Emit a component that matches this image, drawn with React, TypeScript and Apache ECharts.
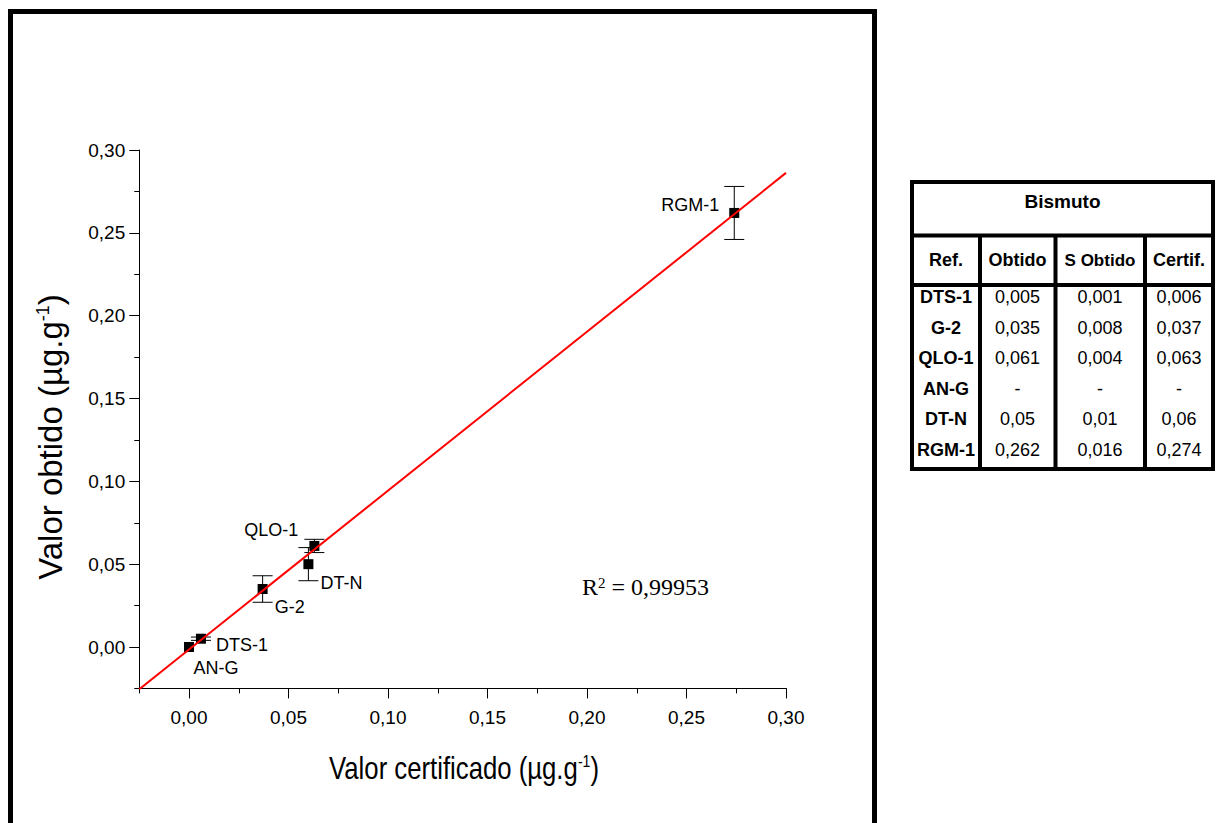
import React, { useEffect, useRef } from "react";
import * as echarts from "echarts";

// ---- data ----
const sampleNames = ["DTS-1", "G-2", "QLO-1", "AN-G", "DT-N", "RGM-1"];
const certifiedX = [0.006, 0.037, 0.063, 0.0, 0.06, 0.274];
const obtainedY = [0.005, 0.035, 0.061, 0.0, 0.05, 0.262];
const stdDevY = [0.001, 0.008, 0.004, 0.0, 0.01, 0.016];
// table values (null = "-")
const tableObtido = [0.005, 0.035, 0.061, null, 0.05, 0.262];
const tableSObtido = [0.001, 0.008, 0.004, null, 0.01, 0.016];
const tableCertif = [0.006, 0.037, 0.063, null, 0.06, 0.274];
const tableHeaders = ["Ref.", "Obtido", "S Obtido", "Certif."];
const tableTitle = "Bismuto";
// regression line endpoints
const fitLine = [
  [-0.025, -0.0255],
  [0.3, 0.2862],
];
const r2Text = "0,99953";
const axisMin = -0.025;
const axisMax = 0.3;

const SANS = "'Liberation Sans', Arial, Helvetica, sans-serif";
const SERIF = "'Liberation Serif', 'Times New Roman', serif";

// label placement per sample (style / layout, not data)
const labelLayout: Record<string, any> = {
  "DTS-1": { position: "right", distance: 10, offset: [0, 6] },
  "G-2": { position: "right", distance: 7, offset: [0, 18] },
  "QLO-1": { position: "left", distance: 11, offset: [0, -16] },
  "AN-G": { position: "bottom", distance: 7, offset: [27, 0] },
  "DT-N": { position: "right", distance: 7, offset: [0, 19] },
  "RGM-1": { position: "left", distance: 10, offset: [0, -8] },
};

const fmt = (v: number | null) => (v == null ? "-" : String(v).replace(".", ","));

export default function App() {
  const ref = useRef<HTMLDivElement>(null);
  useEffect(() => {
    if (!ref.current) return;
    const chart = echarts.init(ref.current, undefined, { renderer: "svg" });

    // pixel geometry of the plot
    const x0 = 189; // pixel of value 0 on x
    const xPx = 1990; // px per unit
    const y0 = 647;
    const yPx = 1656.67;
    const rightEdge = 786;
    const topEdge = 150;
    const W = 1217;
    const H = 823;
    const g0Left = x0 + axisMin * xPx;
    const g0Bottom = H - (y0 - axisMin * yPx);

    // table graphics
    const tL = 912, tR = 1213, tT = 182, tB = 469;
    const hLine1 = 235.5, hLine2 = 285;
    const vLines = [980, 1055.5, 1145];
    const colCenters = [946, 1017.5, 1100, 1179];
    const rowYs = [297, 327.5, 358, 388.5, 419, 449.5];
    const tableEls: any[] = [
      { type: "rect", shape: { x: tL, y: tT, width: tR - tL, height: tB - tT }, style: { fill: "none", stroke: "#000", lineWidth: 4 } },
      { type: "line", shape: { x1: tL, y1: hLine1, x2: tR, y2: hLine1 }, style: { stroke: "#000", lineWidth: 4 } },
      { type: "line", shape: { x1: tL, y1: hLine2, x2: tR, y2: hLine2 }, style: { stroke: "#000", lineWidth: 4 } },
      ...vLines.map((vx) => ({ type: "line", shape: { x1: vx, y1: hLine1, x2: vx, y2: tB }, style: { stroke: "#000", lineWidth: 4 } })),
      { type: "text", style: { text: tableTitle, x: (tL + tR) / 2, y: 201, align: "center", verticalAlign: "middle", font: `bold 19px ${SANS}`, fill: "#000" } },
      ...tableHeaders.map((h, i) => ({ type: "text", style: { text: h, x: colCenters[i], y: 260, align: "center", verticalAlign: "middle", font: `bold ${i === 2 ? 17 : 18}px ${SANS}`, fill: "#000" } })),
    ];
    sampleNames.forEach((n, r) => {
      const vals = [tableObtido[r], tableSObtido[r], tableCertif[r]];
      tableEls.push({ type: "text", style: { text: n, x: colCenters[0], y: rowYs[r], align: "center", verticalAlign: "middle", font: `bold 18px ${SANS}`, fill: "#000" } });
      vals.forEach((v, c) => {
        tableEls.push({ type: "text", style: { text: fmt(v), x: colCenters[c + 1], y: rowYs[r], align: "center", verticalAlign: "middle", font: `18px ${SANS}`, fill: "#000" } });
      });
    });

    const scatterData = sampleNames.map((n, i) => ({
      name: n,
      value: [certifiedX[i], obtainedY[i]],
      label: {
        show: true,
        formatter: n,
        color: "#000",
        fontSize: 18,
        fontFamily: SANS,
        ...labelLayout[n],
      },
    }));

    const errData = sampleNames.map((n, i) => [certifiedX[i], obtainedY[i] - stdDevY[i], obtainedY[i] + stdDevY[i]]);

    const tickFmt = (v: number) => v.toFixed(2).replace(".", ",");

    chart.setOption({
      animation: false,
      backgroundColor: "#fff",
      grid: [
        { left: g0Left, right: W - rightEdge, top: topEdge, bottom: g0Bottom },
        { left: x0, right: W - rightEdge, top: topEdge, bottom: H - y0 },
      ],
      xAxis: [
        {
          gridIndex: 0, type: "value", min: axisMin, max: axisMax, interval: 0.025,
          axisLine: { show: true, onZero: false, lineStyle: { color: "#000", width: 1 } },
          axisTick: { show: true, length: 5, lineStyle: { color: "#000" } },
          axisLabel: { show: false }, splitLine: { show: false },
        },
        {
          gridIndex: 1, type: "value", min: 0, max: axisMax, interval: 0.05,
          offset: -axisMin * yPx,
          axisLine: { show: false, onZero: false },
          axisTick: { show: true, length: 10, lineStyle: { color: "#000" } },
          axisLabel: { show: true, formatter: tickFmt, color: "#000", fontSize: 19, fontFamily: SANS, margin: 20 },
          splitLine: { show: false },
        },
      ],
      yAxis: [
        {
          gridIndex: 0, type: "value", min: axisMin, max: axisMax, interval: 0.025,
          axisLine: { show: true, onZero: false, lineStyle: { color: "#000", width: 1 } },
          axisTick: { show: true, length: 5, lineStyle: { color: "#000" } },
          axisLabel: { show: false }, splitLine: { show: false },
        },
        {
          gridIndex: 1, type: "value", min: 0, max: axisMax, interval: 0.05,
          offset: x0 - g0Left,
          axisLine: { show: false, onZero: false },
          axisTick: { show: true, length: 10, lineStyle: { color: "#000" } },
          axisLabel: { show: true, formatter: tickFmt, color: "#000", fontSize: 19, fontFamily: SANS, margin: 14 },
          splitLine: { show: false },
        },
      ],
      series: [
        {
          type: "custom",
          xAxisIndex: 0, yAxisIndex: 0,
          data: errData,
          z: 3,
          renderItem: (params: any, api: any) => {
            const x = api.value(0);
            const lo = api.coord([x, api.value(1)]);
            const hi = api.coord([x, api.value(2)]);
            if (Math.abs(hi[1] - lo[1]) < 0.5) return { type: "group", children: [] };
            const cw = 10;
            const st = { stroke: "#000", lineWidth: 1 };
            return {
              type: "group",
              children: [
                { type: "line", shape: { x1: lo[0], y1: lo[1], x2: hi[0], y2: hi[1] }, style: st },
                { type: "line", shape: { x1: lo[0] - cw, y1: lo[1], x2: lo[0] + cw, y2: lo[1] }, style: st },
                { type: "line", shape: { x1: hi[0] - cw, y1: hi[1], x2: hi[0] + cw, y2: hi[1] }, style: st },
              ],
            };
          },
        },
        {
          type: "scatter",
          xAxisIndex: 0, yAxisIndex: 0,
          symbol: "rect",
          symbolSize: 10,
          itemStyle: { color: "#000", opacity: 1 },
          data: scatterData,
          z: 4,
        },
        {
          type: "line",
          xAxisIndex: 0, yAxisIndex: 0,
          data: fitLine,
          showSymbol: false,
          symbol: "none",
          lineStyle: { color: "#ff0000", width: 2 },
          z: 5,
        },
      ],
      graphic: [
        { type: "rect", shape: { x: 10.5, y: 11.5, width: 864, height: 900 }, style: { fill: "none", stroke: "#000", lineWidth: 5 } },
        {
          type: "text",
          x: 464, y: 768, scaleX: 0.83,
          style: {
            text: "{a|Valor certificado (µg.g}{s|-1}{a|)}",
            align: "center", verticalAlign: "middle",
            rich: {
              a: { fontSize: 31, fontFamily: SANS, fill: "#000" },
              s: { fontSize: 17, fontFamily: SANS, fill: "#000", verticalAlign: "top" },
            },
          },
        },
        {
          type: "text",
          x: 50, y: 437, rotation: Math.PI / 2,
          style: {
            text: "{a|Valor obtido (µg.g}{s|-1}{a|)}",
            align: "center", verticalAlign: "middle",
            rich: {
              a: { fontSize: 33, fontFamily: SANS, fill: "#000" },
              s: { fontSize: 18, fontFamily: SANS, fill: "#000", verticalAlign: "top" },
            },
          },
        },
        {
          type: "text",
          x: 582, y: 587,
          style: {
            text: "{r|R}{s|2}{r| = " + r2Text + "}",
            align: "left", verticalAlign: "middle",
            rich: {
              r: { fontSize: 24, fontFamily: SERIF, fill: "#000" },
              s: { fontSize: 15, fontFamily: SERIF, fill: "#000", verticalAlign: "top" },
            },
          },
        },
        ...tableEls,
      ],
    });
    return () => chart.dispose();
  }, []);
  return <div ref={ref} style={{ position: "absolute", left: 0, top: 0, width: 1217, height: 823 }} />;
}
